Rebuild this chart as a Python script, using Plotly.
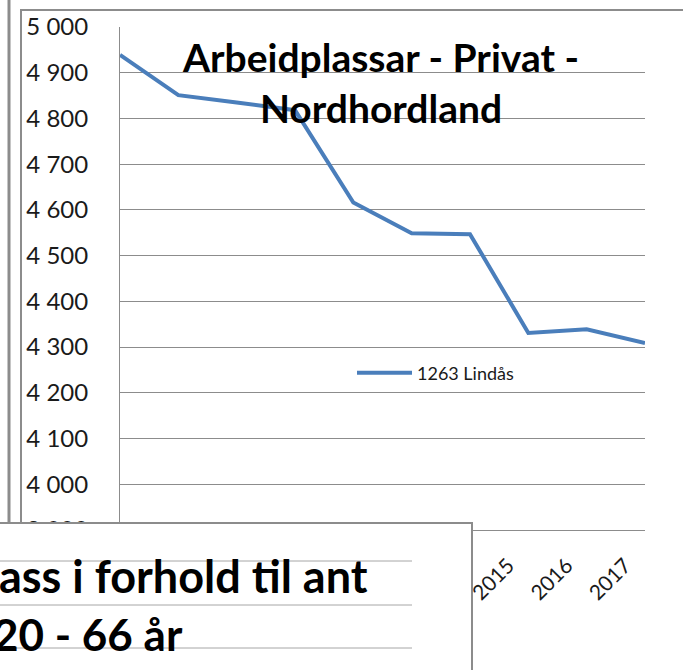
import plotly.graph_objects as go

years = ['2008', '2009', '2010', '2011', '2012', '2013', '2014', '2015', '2016', '2017']
lindas = [4939, 4851, 4835, 4818, 4616, 4549, 4547, 4331, 4339, 4309]
series_name = '1263 Lindås'
chart_title = 'Arbeidplassar - Privat -<br>Nordhordland'
behind_title = ['ass i forhold til ant', '20 - 66 år']

# plot area in pixels, used to place the frame / overlay bits
PL, PR, PT, PB = 120, 645, 27, 530


def px_x(x):
    return (x - PL) / (PR - PL)


def px_y(y):
    return (PB - y) / (PB - PT)


grey = '#8c8c8c'
fnt = 'Lato, "Open Sans", sans-serif'

fig = go.Figure()
fig.add_trace(go.Scatter(x=years, y=lindas, mode='lines', name=series_name,
                         line=dict(color='#4a7ebb', width=4)))

shapes = [
    # frame lines of the charts behind
    dict(type='line', xref='paper', yref='paper', x0=px_x(9), x1=px_x(9), y0=px_y(-2), y1=px_y(523),
         line=dict(color=grey, width=3)),
    dict(type='line', xref='paper', yref='paper', x0=px_x(21), x1=px_x(21), y0=px_y(10), y1=px_y(523),
         line=dict(color=grey, width=2)),
    dict(type='line', xref='paper', yref='paper', x0=px_x(20), x1=px_x(690), y0=px_y(10), y1=px_y(10),
         line=dict(color=grey, width=2)),
    # the other chart lying on top, bottom left
    dict(type='rect', xref='paper', yref='paper', x0=px_x(-5), x1=px_x(472), y0=px_y(680), y1=px_y(523),
         fillcolor='white', line=dict(color=grey, width=2), layer='above'),
]
for gy in [561, 605, 648]:
    shapes.append(dict(type='line', xref='paper', yref='paper', x0=px_x(-5), x1=px_x(412),
                       y0=px_y(gy), y1=px_y(gy), line=dict(color='#a6a6a6', width=1), layer='above'))

annotations = [
    dict(text='<b>' + chart_title + '</b>', xref='paper', yref='paper', x=px_x(380), y=px_y(83),
         xanchor='center', yanchor='middle', showarrow=False, font=dict(family=fnt, size=39, color='black')),
    dict(text='<b>' + behind_title[0] + '</b>', xref='paper', yref='paper', x=px_x(-3), y=px_y(576),
         xanchor='left', yanchor='middle', showarrow=False, font=dict(family=fnt, size=45, color='black')),
    dict(text='<b>' + behind_title[1] + '</b>', xref='paper', yref='paper', x=px_x(-9), y=px_y(634),
         xanchor='left', yanchor='middle', showarrow=False, font=dict(family=fnt, size=44, color='black')),
]

fig.update_layout(
    width=683, height=670, autosize=False,
    margin=dict(l=PL, r=683 - PR, t=PT, b=670 - PB),
    paper_bgcolor='white', plot_bgcolor='white',
    separators=', ',
    font=dict(family=fnt, color='#1a1a1a'),
    showlegend=True,
    legend=dict(x=px_x(352), y=px_y(373), xanchor='left', yanchor='middle',
                bgcolor='rgba(0,0,0,0)', font=dict(size=18), itemwidth=55),
    shapes=shapes,
    annotations=annotations,
)
fig.update_xaxes(type='category', tickangle=-45, tickfont=dict(size=21),
                 showgrid=False, showline=True, linecolor=grey, linewidth=1,
                 ticks='', ticklabelstandoff=14, ticklabelshift=-20)
fig.update_yaxes(range=[3900, 5000], dtick=100, separatethousands=True, tickformat=',d',
                 tickfont=dict(size=24), showgrid=True, gridcolor=grey, gridwidth=1,
                 showline=True, linecolor=grey, linewidth=1, zeroline=False,
                 ticks='', ticklabelstandoff=26)

fig.write_html('out.html', config={'displayModeBar': False},
               post_script="document.body.style.margin='0';")
